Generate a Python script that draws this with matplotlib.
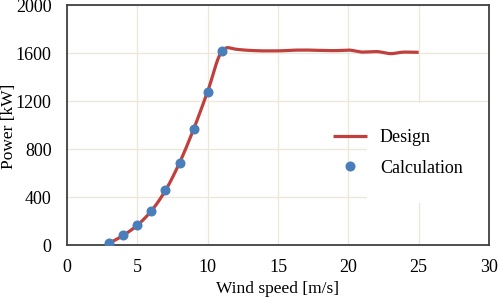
import numpy as np
import matplotlib
matplotlib.use("Agg")
import matplotlib.pyplot as plt
from matplotlib.patches import Rectangle

plt.rcParams['font.family'] = ['Liberation Serif', 'DejaVu Serif']

# Data
design_speed = [3, 4, 5, 6, 7, 8, 9, 10, 11, 11.4, 12, 13, 14, 15, 16, 17, 18, 19, 20, 21, 22, 23, 24, 25]
design_power = [15, 80, 165, 285, 455, 685, 965, 1280, 1610, 1645, 1632, 1622, 1618, 1618, 1624, 1625,
                1622, 1620, 1625, 1608, 1612, 1595, 1608, 1606]
calc_speed = [3, 4, 5, 6, 7, 8, 9, 10, 11]
calc_power = [19, 80, 164, 286, 456, 683, 964, 1278, 1615]
x_ticks = [0, 5, 10, 15, 20, 25, 30]
y_ticks = [0, 400, 800, 1200, 1600, 2000]


def pchip(x, y, xn):
    x = np.asarray(x, float); y = np.asarray(y, float)
    h = np.diff(x); d = np.diff(y) / h
    m = np.zeros_like(y)
    for k in range(1, len(x) - 1):
        if d[k - 1] * d[k] > 0:
            w1 = 2 * h[k] + h[k - 1]; w2 = h[k] + 2 * h[k - 1]
            m[k] = (w1 + w2) / (w1 / d[k - 1] + w2 / d[k])
    m[0] = d[0]; m[-1] = d[-1]
    idx = np.clip(np.searchsorted(x, xn) - 1, 0, len(x) - 2)
    t = (xn - x[idx]) / h[idx]
    h00 = 2 * t**3 - 3 * t**2 + 1; h10 = t**3 - 2 * t**2 + t
    h01 = -2 * t**3 + 3 * t**2; h11 = t**3 - t**2
    return h00 * y[idx] + h10 * h[idx] * m[idx] + h01 * y[idx + 1] + h11 * h[idx] * m[idx + 1]


W, H = 498, 297
fig = plt.figure(figsize=(W / 100, H / 100), dpi=100)
ax = fig.add_axes([0.1345, 0.175, 0.8475, 0.808])

xs = np.linspace(design_speed[0], design_speed[-1], 600)
ax.plot(xs, pchip(design_speed, design_power, xs), color='#c0403d', lw=2.3,
        label='Design', zorder=3, solid_capstyle='butt')
ax.plot(calc_speed, calc_power, 'o', color='#4a7ebb', ms=6.2, label='Calculation', zorder=4)

ax.set_xlim(0, 30)
ax.set_ylim(0, 2000)
ax.set_xticks(x_ticks)
ax.set_yticks(y_ticks)
ax.grid(True, color='#ebe7d9', lw=0.9, zorder=0)
ax.set_axisbelow(True)
ax.tick_params(length=0, labelsize=13, colors='black')
ax.tick_params(axis='x', pad=10)
ax.tick_params(axis='y', pad=11)
for s in ax.spines.values():
    s.set_color('#404040')
    s.set_linewidth(1.3)

fig.text(278 / W, 1 - 289 / H, 'Wind speed [m/s]', fontsize=12.5, ha='center', va='center')
fig.text(9 / W, 1 - 126 / H, 'Power [kW]', fontsize=12.5, ha='center', va='center', rotation=90)

# white legend background box (Excel style)
x0 = 67
rect = Rectangle(((367 - x0) / 422, (245 - 203) / 240), (489 - 367) / 422, (203 - 103) / 240,
                 transform=ax.transAxes, facecolor='white', edgecolor='none', zorder=1)
ax.add_patch(rect)

ax.legend(loc='upper left', bbox_to_anchor=((333 - x0) / 422, (245 - 129) / 240),
          frameon=False, fontsize=13, handlelength=1.9, handletextpad=0.7,
          labelspacing=0.75, borderaxespad=0, borderpad=0)

fig.savefig('out.png', dpi=100)
